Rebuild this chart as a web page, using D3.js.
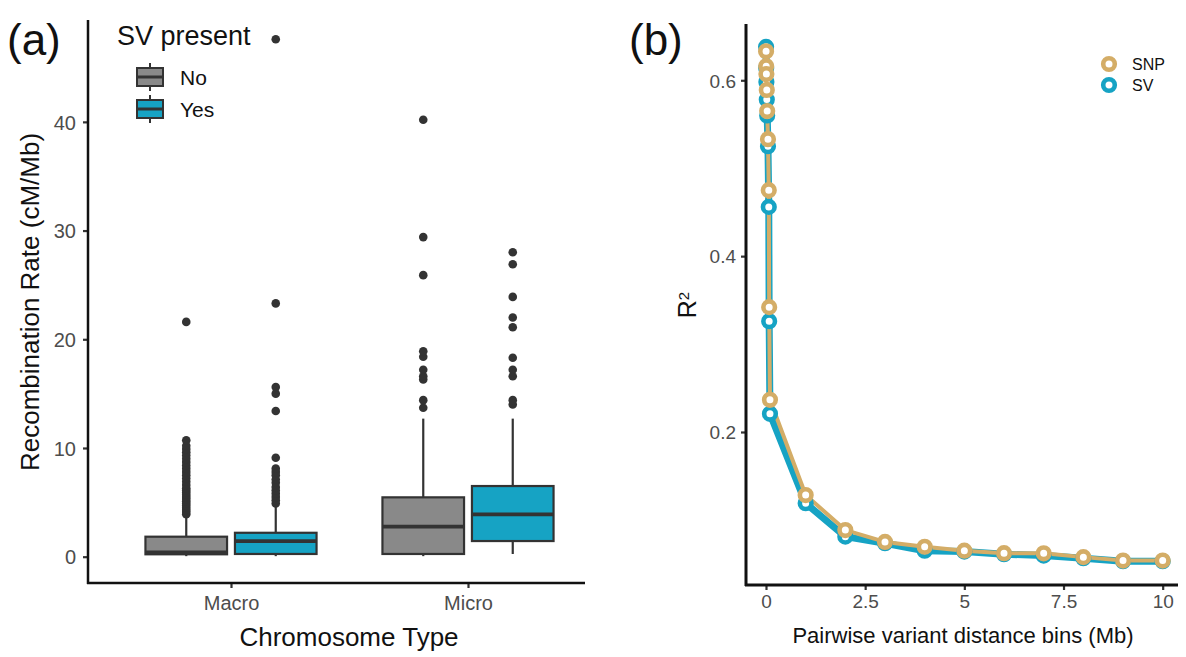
<!DOCTYPE html>
<html>
<head>
<meta charset="utf-8">
<script src="https://cdn.jsdelivr.net/npm/d3@7"></script>
<style>
  body { margin: 0; background: #fff; }
  text { font-family: "Liberation Sans", Arial, sans-serif; }
</style>
</head>
<body>
<div id="chart"></div>
<script>
// ---- panel (a) data: box stats per chromosome type x SV present ----
const chromTypes = ["Macro", "Micro"];
const svLevels = ["No", "Yes"];
// [lowerWhisker, q1, median, q3, upperWhisker]
const macroNo  = [0.05, 0.22, 0.4, 1.84, 3.75];
const macroYes = [0.05, 0.25, 1.44, 2.2, 4.7];
const microNo  = [0.05, 0.25, 2.76, 5.46, 12.7];
const microYes = [0.25, 1.44, 3.9, 6.5, 12.7];
const macroNoOut  = [3.9, 4.1, 4.3, 4.5, 4.7, 4.9, 5.1, 5.3, 5.5, 5.7, 5.9, 6.1, 6.3, 6.6, 6.9, 7.2, 7.5, 7.8, 8.1, 8.4, 8.7, 9.0, 9.3, 9.6, 9.9, 10.2, 10.7, 21.6];
const macroYesOut = [4.9, 5.2, 5.5, 5.8, 6.1, 6.4, 6.8, 7.1, 7.5, 7.8, 8.1, 9.1, 13.4, 15.0, 15.6, 23.3, 47.6];
const microNoOut  = [13.7, 14.4, 16.3, 16.6, 17.2, 18.4, 18.9, 25.9, 29.4, 40.2];
const microYesOut = [14.0, 14.4, 16.6, 17.2, 18.3, 21.1, 22.0, 23.9, 26.9, 28.0];
const leftYTicks = [0, 10, 20, 30, 40];

// ---- panel (b) data: LD decay ----
const distX = [0.002, 0.005, 0.01, 0.02, 0.03, 0.05, 0.07, 0.08, 0.1, 1, 2, 3, 4, 5, 6, 7, 8, 9, 10];
const snpR2 = [0.633, 0.616, 0.607, 0.589, 0.565, 0.533, 0.475, 0.342, 0.2366, 0.1283, 0.0885, 0.0750, 0.0695, 0.0650, 0.0622, 0.0620, 0.0577, 0.0538, 0.0538];
const svR2  = [0.638, 0.614, 0.598, 0.578, 0.560, 0.525, 0.456, 0.326, 0.2207, 0.119, 0.081, 0.0735, 0.0650, 0.0640, 0.0610, 0.0595, 0.0565, 0.0530, 0.0530];
const rightYTicks = [0.2, 0.4, 0.6];
const rightXTicks = [0, 2.5, 5, 7.5, 10];

const grey = "#898989", teal = "#16a3c4", tan = "#d4ad67", dark = "#333333";

const svg = d3.select("#chart").append("svg")
  .attr("width", 1186).attr("height", 657);

// ================= panel (a) =================
const yA = d3.scaleLinear().domain([-2.42, 49.37]).range([583, 20]);
const xA = d3.scalePoint().domain(chromTypes).range([231, 468]);
const xSub = d3.scalePoint().domain(svLevels).range([-44.75, 44.75]);
const boxW = 81.6;

const boxes = [
  {type: "Macro", sv: "No",  s: macroNo,  out: macroNoOut},
  {type: "Macro", sv: "Yes", s: macroYes, out: macroYesOut},
  {type: "Micro", sv: "No",  s: microNo,  out: microNoOut},
  {type: "Micro", sv: "Yes", s: microYes, out: microYesOut}
];

const gA = svg.append("g");
boxes.forEach(b => {
  const cx = xA(b.type) + xSub(b.sv);
  const fill = b.sv === "No" ? grey : teal;
  const g = gA.append("g");
  g.append("line").attr("x1", cx).attr("x2", cx)
    .attr("y1", yA(b.s[3])).attr("y2", yA(b.s[4]))
    .attr("stroke", dark).attr("stroke-width", 2.2);
  g.append("line").attr("x1", cx).attr("x2", cx)
    .attr("y1", yA(b.s[0])).attr("y2", yA(b.s[1]))
    .attr("stroke", dark).attr("stroke-width", 2.2);
  g.append("rect")
    .attr("x", cx - boxW / 2).attr("width", boxW)
    .attr("y", yA(b.s[3])).attr("height", yA(b.s[1]) - yA(b.s[3]))
    .attr("fill", fill).attr("stroke", dark).attr("stroke-width", 2.2);
  g.append("line")
    .attr("x1", cx - boxW / 2).attr("x2", cx + boxW / 2)
    .attr("y1", yA(b.s[2])).attr("y2", yA(b.s[2]))
    .attr("stroke", dark).attr("stroke-width", 3.8);
  g.selectAll("circle").data(b.out).enter().append("circle")
    .attr("cx", cx).attr("cy", d => yA(d)).attr("r", 4.3)
    .attr("fill", dark);
});

// axes (a)
const yAxisA = gA.append("g").attr("transform", "translate(88,0)")
  .call(d3.axisLeft(yA).tickValues(leftYTicks).tickSize(5).tickSizeOuter(0));
const xAxisA = gA.append("g").attr("transform", "translate(0,583)")
  .call(d3.axisBottom(xA).tickSize(5).tickSizeOuter(0));
[yAxisA, xAxisA].forEach(a => {
  a.select(".domain").remove();
  a.selectAll(".tick line").attr("stroke", dark).attr("stroke-width", 2.2);
  a.selectAll(".tick text").attr("fill", "#4d4d4d").style("font-size", "20px")
    .style("font-family", "Liberation Sans, Arial, sans-serif");
});
yAxisA.selectAll(".tick text").attr("x", -12).attr("dy", "0.36em");
xAxisA.selectAll(".tick text").attr("y", 13);
gA.append("line").attr("x1", 88).attr("x2", 88).attr("y1", 20).attr("y2", 584)
  .attr("stroke", "#111").attr("stroke-width", 2.5);
gA.append("line").attr("x1", 87).attr("x2", 585).attr("y1", 583).attr("y2", 583)
  .attr("stroke", "#111").attr("stroke-width", 2.5);

gA.append("text").attr("x", 349).attr("y", 646).attr("text-anchor", "middle")
  .style("font-size", "26px").attr("fill", "#111").text("Chromosome Type");
gA.append("text").attr("transform", "translate(39,302) rotate(-90)")
  .attr("text-anchor", "middle").style("font-size", "26px").attr("fill", "#111")
  .text("Recombination Rate (cM/Mb)");

// legend (a)
const legA = gA.append("g");
legA.append("text").attr("x", 117).attr("y", 45).style("font-size", "27px")
  .attr("fill", "#111").text("SV present");
svLevels.forEach((lv, i) => {
  const y0 = 68 + i * 32;
  const cx = 150;
  legA.append("line").attr("x1", cx).attr("x2", cx).attr("y1", y0 - 5).attr("y2", y0 + 23)
    .attr("stroke", dark).attr("stroke-width", 2);
  legA.append("rect").attr("x", 137).attr("y", y0).attr("width", 26).attr("height", 18)
    .attr("fill", lv === "No" ? grey : teal).attr("stroke", dark).attr("stroke-width", 2);
  legA.append("line").attr("x1", 137).attr("x2", 163).attr("y1", y0 + 9).attr("y2", y0 + 9)
    .attr("stroke", dark).attr("stroke-width", 3);
  legA.append("text").attr("x", 180).attr("y", y0 + 17).style("font-size", "21px")
    .attr("fill", "#111").text(lv);
});

svg.append("text").attr("x", 7).attr("y", 55).style("font-size", "44px")
  .attr("fill", "#111").text("(a)");

// ================= panel (b) =================
const xB = d3.scaleLinear().domain([-0.504, 10.386]).range([746, 1178]);
const yB = d3.scaleLinear().domain([0.026, 0.664]).range([585, 24]);
const gB = svg.append("g");

const snpData = distX.map((d, i) => ({x: d, y: snpR2[i]}));
const svData = distX.map((d, i) => ({x: d, y: svR2[i]}));
const line = d3.line().x(d => xB(d.x)).y(d => yB(d.y));

gB.append("path").datum(svData).attr("d", line)
  .attr("fill", "none").attr("stroke", teal).attr("stroke-width", 7)
  .attr("stroke-linejoin", "round");
gB.append("path").datum(snpData).attr("d", line)
  .attr("fill", "none").attr("stroke", tan).attr("stroke-width", 4)
  .attr("stroke-linejoin", "round");
gB.append("g").selectAll("circle").data(svData).enter().append("circle")
  .attr("cx", d => xB(d.x)).attr("cy", d => yB(d.y)).attr("r", 5.8)
  .attr("fill", "#fff").attr("stroke", teal).attr("stroke-width", 4.6);
gB.append("g").selectAll("circle").data(snpData).enter().append("circle")
  .attr("cx", d => xB(d.x)).attr("cy", d => yB(d.y)).attr("r", 5.8)
  .attr("fill", "#fff").attr("stroke", tan).attr("stroke-width", 4.6);

const yAxisB = gB.append("g").attr("transform", "translate(746,0)")
  .call(d3.axisLeft(yB).tickValues(rightYTicks).tickFormat(d3.format(".1f")).tickSize(5).tickSizeOuter(0));
const xAxisB = gB.append("g").attr("transform", "translate(0,585)")
  .call(d3.axisBottom(xB).tickValues(rightXTicks).tickFormat(d => d).tickSize(5).tickSizeOuter(0));
[yAxisB, xAxisB].forEach(a => {
  a.select(".domain").remove();
  a.selectAll(".tick line").attr("stroke", dark).attr("stroke-width", 2.2);
  a.selectAll(".tick text").attr("fill", "#4d4d4d").style("font-size", "19px")
    .style("font-family", "Liberation Sans, Arial, sans-serif");
});
yAxisB.selectAll(".tick text").attr("x", -10).attr("dy", "0.36em");
xAxisB.selectAll(".tick text").attr("y", 10);
gB.append("line").attr("x1", 746).attr("x2", 746).attr("y1", 24).attr("y2", 586)
  .attr("stroke", "#111").attr("stroke-width", 3);
gB.append("line").attr("x1", 745).attr("x2", 1178).attr("y1", 585).attr("y2", 585)
  .attr("stroke", "#111").attr("stroke-width", 3);

gB.append("text").attr("x", 963).attr("y", 643).attr("text-anchor", "middle")
  .style("font-size", "22px").attr("fill", "#111").text("Pairwise variant distance bins (Mb)");
const r2 = gB.append("text").attr("transform", "translate(696,305) rotate(-90)")
  .attr("text-anchor", "middle").style("font-size", "25px").attr("fill", "#111");
r2.append("tspan").text("R");
r2.append("tspan").attr("dy", "-0.45em").style("font-size", "15px").text("2");

// legend (b)
const legB = gB.append("g");
[{k: "SNP", c: tan}, {k: "SV", c: teal}].forEach((d, i) => {
  const y0 = 64 + i * 21;
  legB.append("circle").attr("cx", 1109).attr("cy", y0).attr("r", 5.8)
    .attr("fill", "#fff").attr("stroke", d.c).attr("stroke-width", 4.6);
  legB.append("text").attr("x", 1132).attr("y", y0 + 6).style("font-size", "16px")
    .attr("fill", "#111").text(d.k);
});

svg.append("text").attr("x", 629).attr("y", 55).style("font-size", "44px")
  .attr("fill", "#111").text("(b)");
</script>
</body>
</html>
